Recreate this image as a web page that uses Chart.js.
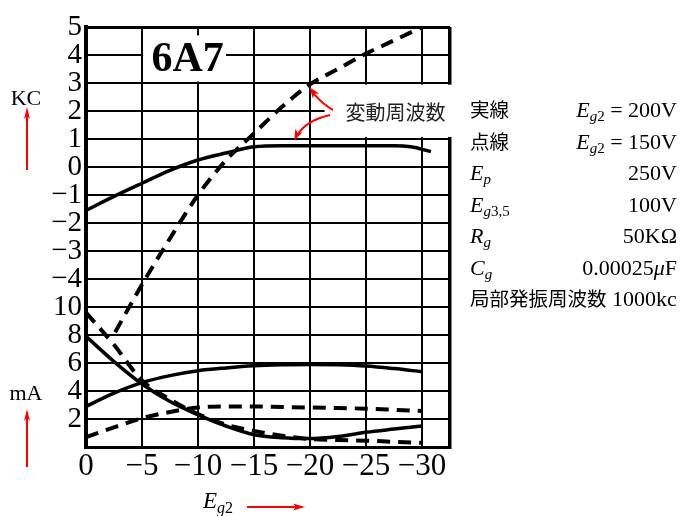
<!DOCTYPE html>
<html>
<head>
<meta charset="utf-8">
<script src="https://cdn.jsdelivr.net/npm/chart.js@4/dist/chart.umd.min.js"></script>
<style>
  html, body { margin: 0; padding: 0; background: #fff; }
  canvas { display: block; }
</style>
</head>
<body>
<canvas id="chart" width="688" height="516"></canvas>
<script>
// Screen-grid voltage Eg2 (V), common grid for most curves
const eg = [0, -2.5, -5, -7.5, -10, -12.5, -15, -17.5, -20, -22.5, -25, -27.5, -30];

// Frequency shift (KC)
const egKcSolid = [0, -2.5, -5, -7.5, -10, -12.5, -15, -17.5, -20, -22.5, -25, -27.5, -29, -30.8];
const kcSolid   = [-1.55, -1.05, -0.58, -0.12, 0.25, 0.5, 0.72, 0.76, 0.76, 0.76, 0.76, 0.76, 0.72, 0.55];
const egKcDash  = [-2.6, -5, -7.5, -10, -12.5, -15, -17.5, -20, -22.5, -25, -27.5, -30];
const kcDash    = [-5.9, -4.2, -2.55, -1.0, 0.24, 1.2, 2.15, 2.95, 3.5, 4.05, 4.52, 5.0];

// Currents (mA)
const maSolidFall = [7.9, 6.1, 4.5, 3.25, 2.3, 1.5, 0.88, 0.66, 0.6, 0.75, 1.05, 1.28, 1.5];
const maSolidRise = [2.9, 3.85, 4.6, 5.1, 5.45, 5.65, 5.8, 5.87, 5.9, 5.87, 5.78, 5.6, 5.38];
const maDashFall  = [9.6, 7.3, 4.75, 3.4, 2.35, 1.6, 1.15, 0.8, 0.57, 0.5, 0.45, 0.37, 0.3];
const maDashRise  = [0.7, 1.4, 2.05, 2.5, 2.82, 2.9, 2.9, 2.86, 2.82, 2.78, 2.74, 2.66, 2.57];

// Axis layout: KC scale above, mA scale below, sharing one grid
const KC_MIN = -10, KC_MAX = 5, KC_LABEL_MIN = -4;
const MA_PER_KC = 2;
const EG_MIN = -32.5, EG_MAX = 0, EG_STEP = 5;
const egTicks = [0, -5, -10, -15, -20, -25, -30, EG_MIN];

const SERIF = '"Liberation Serif", "Times New Roman", serif';
const CJK = '"Noto Sans CJK JP", "Noto Sans CJK SC", sans-serif';
const RED = '#ff0000';

const minus = s => String(s).replace('-', '\u2212');
const pts = (xs, ys) => xs.map((x, i) => ({ x, y: ys[i] }));

function lineSet(data, axis, dashed) {
  return {
    data, yAxisID: axis,
    borderColor: '#000', borderWidth: dashed ? 4 : 3.5,
    borderDash: dashed ? [13, 8] : [],
    borderCapStyle: 'butt',
    pointRadius: 0, cubicInterpolationMode: 'monotone', fill: false
  };
}

function arrowHead(ctx, x, y, ang, len, half) {
  ctx.save();
  ctx.translate(x, y);
  ctx.rotate(ang);
  ctx.beginPath();
  ctx.moveTo(0, 0);
  ctx.lineTo(-len, -half);
  ctx.lineTo(-len * 0.75, 0);
  ctx.lineTo(-len, half);
  ctx.closePath();
  ctx.fill();
  ctx.restore();
}

function rich(ctx, parts, x, y, align) {
  let w = 0;
  parts.forEach(p => { ctx.font = p[1]; w += ctx.measureText(p[0]).width; });
  let cx = align === 'right' ? x - w : x;
  ctx.textAlign = 'left';
  parts.forEach(p => {
    ctx.font = p[1];
    ctx.fillText(p[0], cx, y + (p[2] || 0));
    cx += ctx.measureText(p[0]).width;
  });
}

const decorations = {
  id: 'decorations',
  beforeDatasetsDraw(chart) {
    const { ctx, scales } = chart;
    const x = scales.x, y = scales.kc;
    ctx.save();
    // title box
    const tx0 = x.getPixelForValue(-5.1), tx1 = x.getPixelForValue(-12.5);
    const ty0 = y.getPixelForValue(4.7), ty1 = y.getPixelForValue(3.05);
    ctx.fillStyle = '#fff';
    ctx.fillRect(tx0, ty0, tx1 - tx0, ty1 - ty0);
    ctx.fillStyle = '#000';
    ctx.font = 'bold 42px ' + SERIF;
    ctx.textAlign = 'center';
    ctx.textBaseline = 'alphabetic';
    ctx.fillText('6A7', (tx0 + tx1) / 2 + 3, ty0 + 36);

    // note box
    const nx0 = x.getPixelForValue(-21.3);
    const ny0 = y.getPixelForValue(2.94), ny1 = y.getPixelForValue(1.07);
    ctx.fillStyle = '#fff';
    ctx.fillRect(nx0, ny0, 455 - nx0, ny1 - ny0);
    ctx.fillStyle = '#222';
    ctx.font = '20px ' + CJK;
    ctx.textAlign = 'left';
    ctx.fillText('変動周波数', nx0 + 21, ny0 + 35);
    ctx.restore();
  },
  afterDatasetsDraw(chart) {
    const { ctx, scales } = chart;
    const x = scales.x, y = scales.kc;
    ctx.save();
    ctx.strokeStyle = RED; ctx.fillStyle = RED; ctx.lineWidth = 2;
    // arrow to dashed curve
    const a1x = x.getPixelForValue(-19.95), a1y = y.getPixelForValue(2.85);
    ctx.beginPath();
    ctx.moveTo(333, 110);
    ctx.quadraticCurveTo(322, 104, a1x + 3, a1y + 5);
    ctx.stroke();
    arrowHead(ctx, a1x, a1y, Math.atan2(a1y - 104, a1x - 322), 11, 4);
    // arrow to solid curve
    const a2x = x.getPixelForValue(-18.6), a2y = y.getPixelForValue(0.95);
    ctx.beginPath();
    ctx.moveTo(330, 115);
    ctx.quadraticCurveTo(305, 121, a2x + 3, a2y - 5);
    ctx.stroke();
    arrowHead(ctx, a2x, a2y, Math.atan2(a2y - 124, a2x - 302), 11, 4);
    ctx.restore();
  },
  afterDraw(chart) {
    const { ctx } = chart;
    ctx.save();
    ctx.fillStyle = '#000';
    ctx.textBaseline = 'alphabetic';

    // axis unit labels with upward arrows
    ctx.font = '22px ' + SERIF;
    ctx.textAlign = 'center';
    ctx.fillText('KC', 26, 105);
    ctx.fillText('mA', 26, 400);
    ctx.strokeStyle = RED; ctx.fillStyle = RED; ctx.lineWidth = 2;
    [[170, 107], [467, 409]].forEach(([y0, y1]) => {
      ctx.beginPath(); ctx.moveTo(27, y0); ctx.lineTo(27, y1 + 8); ctx.stroke();
      arrowHead(ctx, 27, y1, -Math.PI / 2, 12, 3);
    });
    // Eg2 label with right arrow
    ctx.fillStyle = '#000';
    rich(ctx, [['E', 'italic 23px ' + SERIF], ['g', 'italic 16px ' + SERIF, 5], ['2', '16px ' + SERIF, 5]], 203, 508, 'left');
    ctx.fillStyle = RED;
    ctx.beginPath(); ctx.moveTo(247, 507); ctx.lineTo(296, 507); ctx.stroke();
    arrowHead(ctx, 305, 507, 0, 12, 3.5);

    // condition table
    ctx.fillStyle = '#000';
    const it = 'italic 22px ' + SERIF, rm = '22px ' + SERIF;
    const sit = 'italic 15px ' + SERIF, srm = '15px ' + SERIF;
    const cj = '19.5px ' + CJK;
    const L = 470, R = 677;
    const rows = [
      [[['実線', cj]], [['E', it], ['g', sit, 4], ['2', srm, 4], [' = 200V', rm]], 117],
      [[['点線', cj]], [['E', it], ['g', sit, 4], ['2', srm, 4], [' = 150V', rm]], 149],
      [[['E', it], ['p', sit, 4]], [['250V', rm]], 180],
      [[['E', it], ['g', sit, 4], ['3,5', srm, 4]], [['100V', rm]], 212],
      [[['R', it], ['g', sit, 4]], [['50K\u03A9', rm]], 243],
      [[['C', it], ['g', sit, 4]], [['0.00025', rm], ['\u03BC', it], ['F', rm]], 275]
    ];
    rows.forEach(([left, right, base]) => {
      rich(ctx, left, L, base, 'left');
      rich(ctx, right, R, base, 'right');
    });
    rich(ctx, [['局部発振周波数', cj], [' 1000kc', rm]], L, 306, 'left');
    ctx.restore();
  }
};

const edgeWidth = (v, edges, wEdge, wIn) => edges.includes(v) ? wEdge : wIn;

new Chart(document.getElementById('chart'), {
  type: 'line',
  data: {
    datasets: [
      lineSet(pts(egKcSolid, kcSolid), 'kc', false),
      lineSet(pts(egKcDash, kcDash), 'kc', true),
      lineSet(pts(eg, maSolidFall), 'ma', false),
      lineSet(pts(eg, maSolidRise), 'ma', false),
      lineSet(pts(eg, maDashFall), 'ma', true),
      lineSet(pts(eg, maDashRise), 'ma', true)
    ]
  },
  options: {
    responsive: false,
    animation: false,
    events: [],
    layout: { padding: { top: 27, right: 238, left: 0, bottom: 0 } },
    plugins: { legend: { display: false }, tooltip: { enabled: false } },
    scales: {
      x: {
        type: 'linear', reverse: true, min: EG_MIN, max: EG_MAX,
        afterBuildTicks: s => { s.ticks = egTicks.map(value => ({ value })); },
        afterFit: s => { s.height = 69; },
        grid: {
          color: '#000', drawTicks: false,
          lineWidth: c => edgeWidth(c.tick && c.tick.value, [EG_MIN, EG_MAX], 3.5, 2)
        },
        border: { display: true, color: '#000', width: 3 },
        ticks: {
          autoSkip: false, maxRotation: 0, padding: 1,
          color: '#000', font: { family: SERIF, size: 31 },
          callback: v => (v % EG_STEP === 0 ? minus(v) : '')
        }
      },
      kc: {
        type: 'linear', position: 'left', min: KC_MIN, max: KC_MAX,
        afterFit: s => { s.width = 86; },
        grid: {
          color: '#000', drawTicks: false,
          lineWidth: c => edgeWidth(c.tick && c.tick.value, [KC_MIN, KC_MAX], 3, 2)
        },
        border: { display: true, color: '#000', width: 4 },
        ticks: {
          stepSize: 1, autoSkip: false, padding: 4,
          color: '#000', font: { family: SERIF, size: 29 },
          callback: v => v >= KC_LABEL_MIN ? minus(v)
            : (v > KC_MIN ? String((v - KC_MIN) * MA_PER_KC) : '')
        }
      },
      ma: {
        type: 'linear', display: false,
        min: 0, max: (KC_MAX - KC_MIN) * MA_PER_KC
      }
    }
  },
  plugins: [decorations]
});
</script>
</body>
</html>
